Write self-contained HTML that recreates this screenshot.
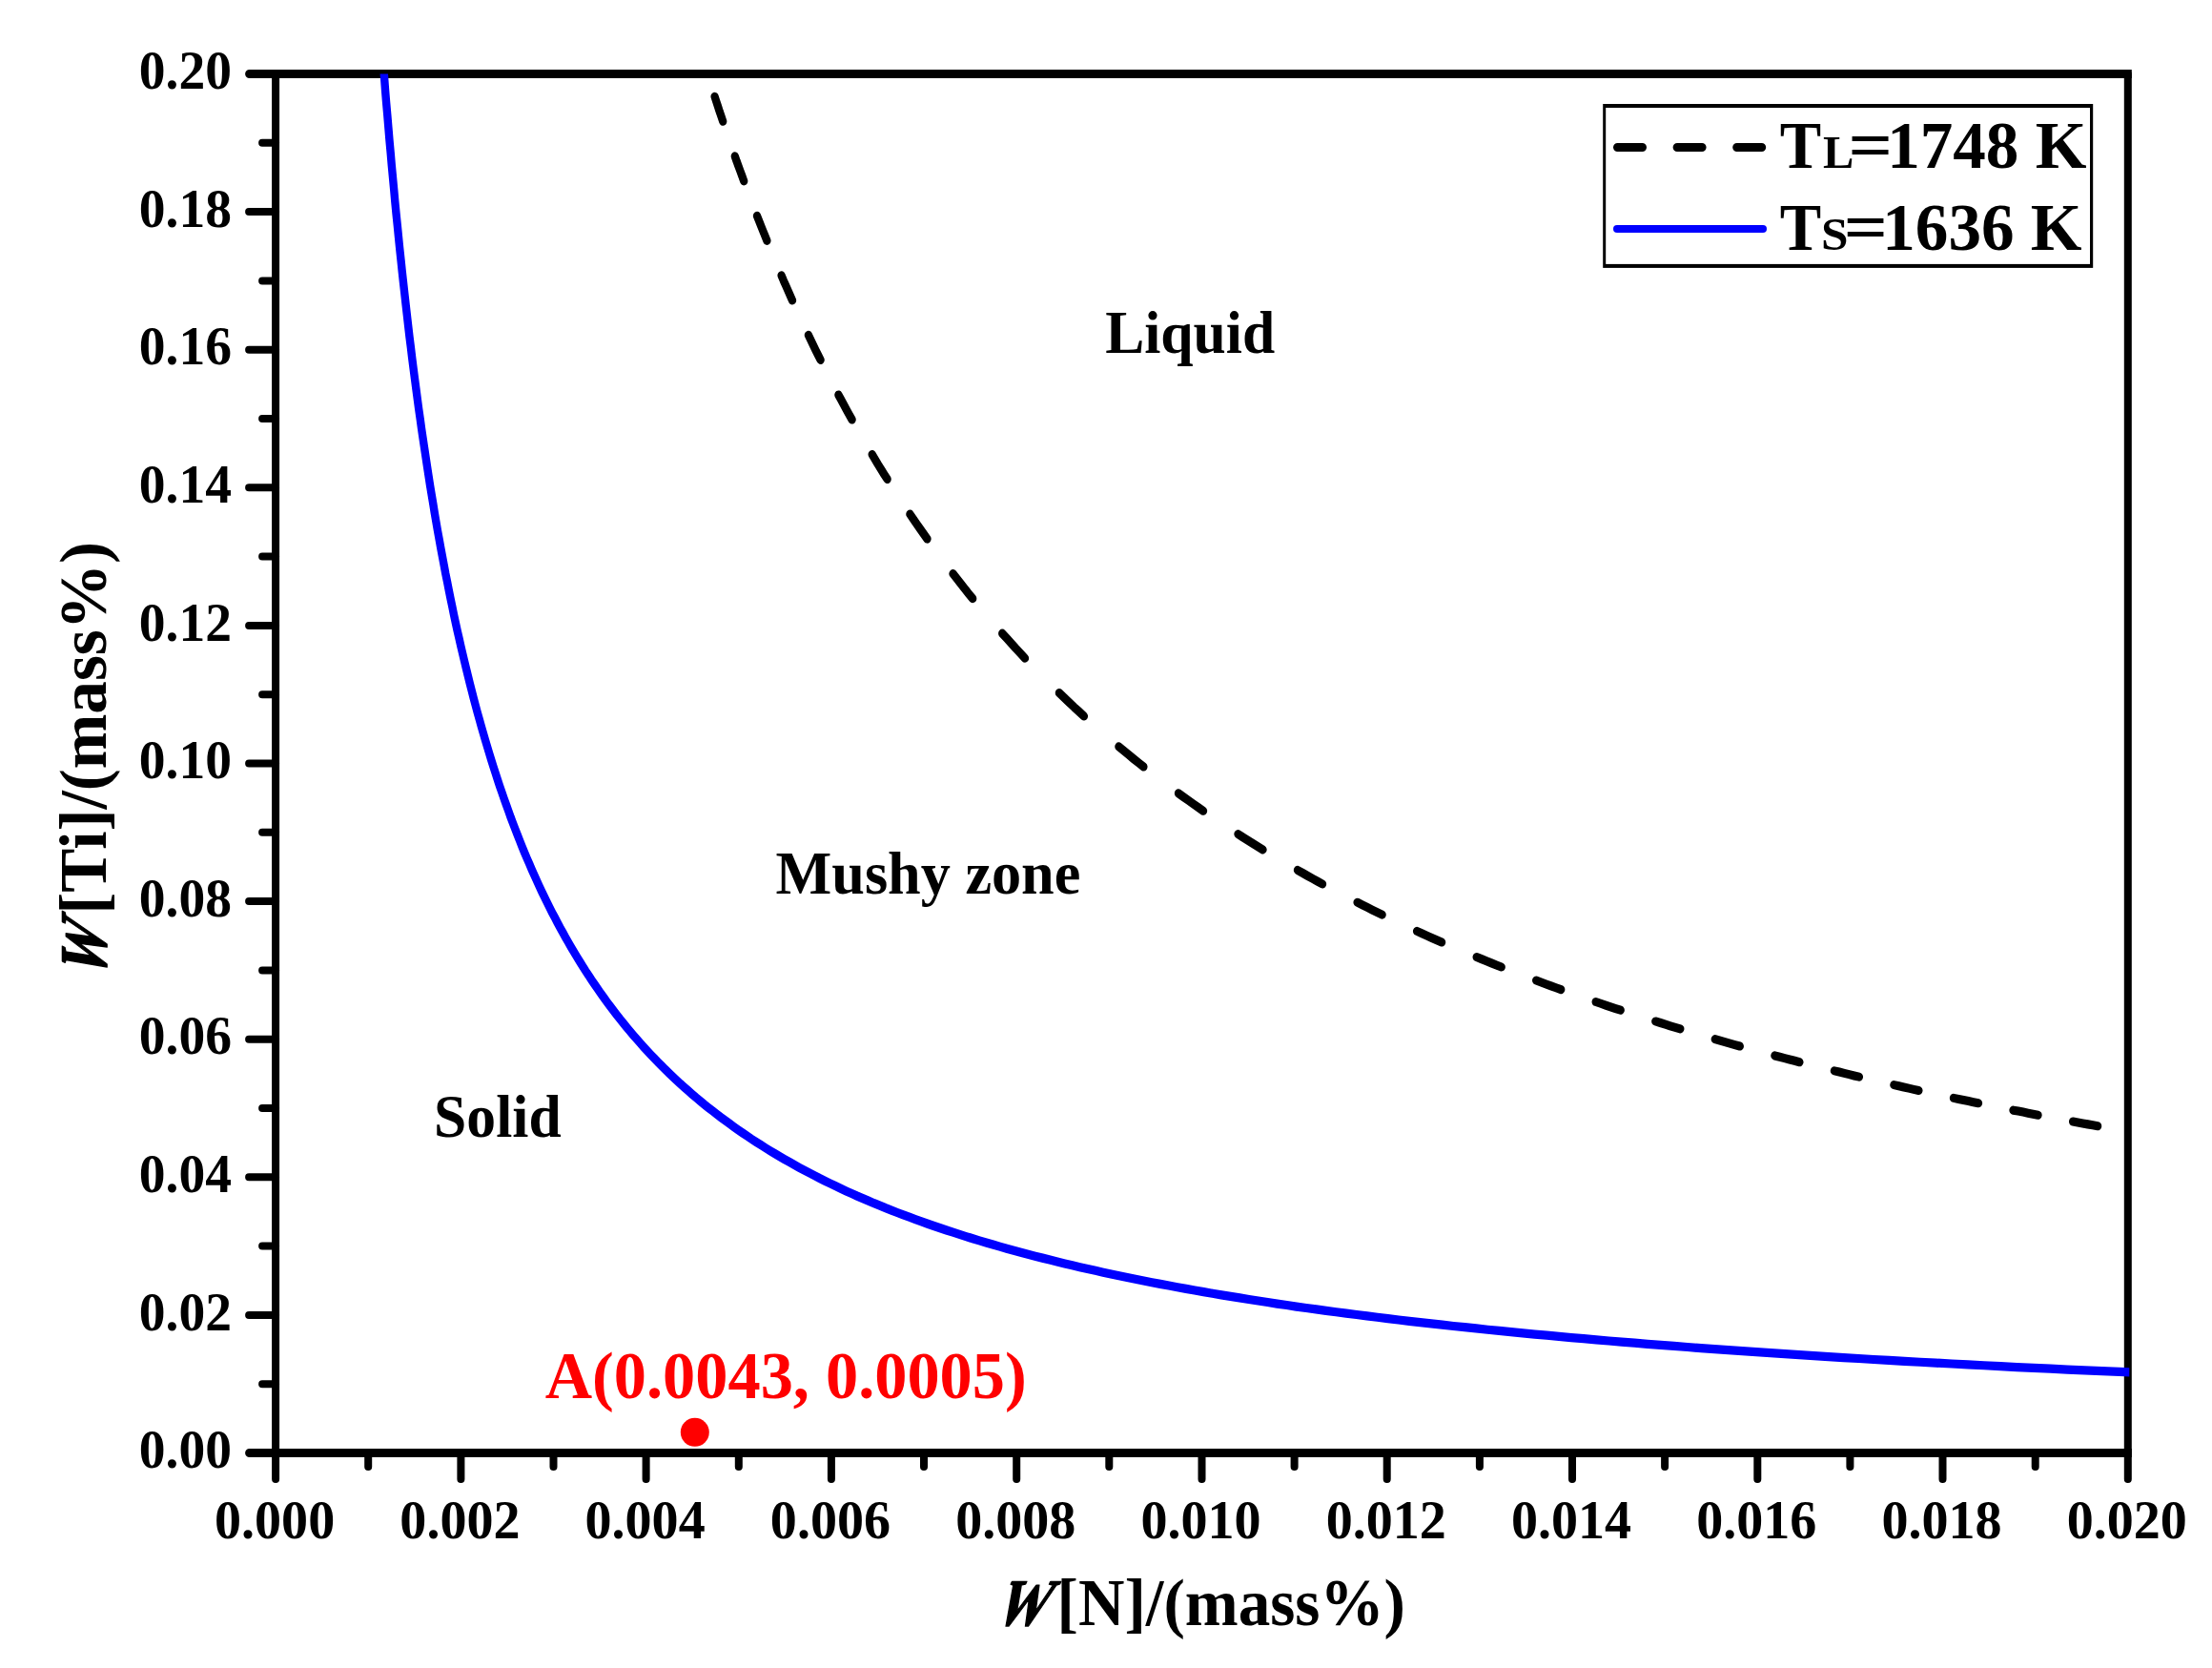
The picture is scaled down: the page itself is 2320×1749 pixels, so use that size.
<!DOCTYPE html>
<html><head><meta charset="utf-8"><title>Ti-N stability diagram</title>
<style>html,body{margin:0;padding:0;background:#fff}svg{display:block}text{font-family:"Liberation Serif","Times New Roman",serif;font-weight:bold}</style>
</head><body>
<svg width="2320" height="1749" viewBox="0 0 2320 1749">
<rect width="2320" height="1749" fill="#fff"/>
<defs><clipPath id="plot"><rect x="289.1" y="77.5" width="1944.2" height="1446.0"/></clipPath></defs>
<g stroke="#000" fill="none" stroke-linecap="round" stroke-linejoin="round">
<path stroke-width="9" stroke-linecap="butt" d="M289.1 77.5H2235.8M289.1 1523.5H2235.8"/>
<path stroke-width="9" d="M261.6 77.5H289.1M261.6 1523.5H289.1"/>
<path stroke-width="8" d="M289.1 77.5V1551.0M2231.8 77.5V1551.0"/>
<path stroke-width="8" d="M275.1 1451.2H289.1M261.1 1378.9H289.1M275.1 1306.6H289.1M261.1 1234.3H289.1M275.1 1162.0H289.1M261.1 1089.7H289.1M275.1 1017.4H289.1M261.1 945.1H289.1M275.1 872.8H289.1M261.1 800.5H289.1M275.1 728.2H289.1M261.1 655.9H289.1M275.1 583.6H289.1M261.1 511.3H289.1M275.1 439.0H289.1M261.1 366.7H289.1M275.1 294.4H289.1M261.1 222.1H289.1M275.1 149.8H289.1M386.2 1523.5V1538.0M483.4 1523.5V1551.0M580.5 1523.5V1538.0M677.6 1523.5V1551.0M774.8 1523.5V1538.0M871.9 1523.5V1551.0M969.0 1523.5V1538.0M1066.2 1523.5V1551.0M1163.3 1523.5V1538.0M1260.5 1523.5V1551.0M1357.6 1523.5V1538.0M1454.7 1523.5V1551.0M1551.9 1523.5V1538.0M1649.0 1523.5V1551.0M1746.1 1523.5V1538.0M1843.3 1523.5V1551.0M1940.4 1523.5V1538.0M2037.5 1523.5V1551.0M2134.7 1523.5V1538.0"/>
</g>
<g font-size="57.5" fill="#000">
<g text-anchor="end">
<text transform="translate(243.0 1539.1) scale(0.966 1)">0.00</text>
<text transform="translate(243.0 1394.5) scale(0.966 1)">0.02</text>
<text transform="translate(243.0 1249.9) scale(0.966 1)">0.04</text>
<text transform="translate(243.0 1105.3) scale(0.966 1)">0.06</text>
<text transform="translate(243.0 960.7) scale(0.966 1)">0.08</text>
<text transform="translate(243.0 816.1) scale(0.966 1)">0.10</text>
<text transform="translate(243.0 671.5) scale(0.966 1)">0.12</text>
<text transform="translate(243.0 526.9) scale(0.966 1)">0.14</text>
<text transform="translate(243.0 382.3) scale(0.966 1)">0.16</text>
<text transform="translate(243.0 237.7) scale(0.966 1)">0.18</text>
<text transform="translate(243.0 93.1) scale(0.966 1)">0.20</text>
</g><g text-anchor="middle">
<text transform="translate(288.1 1612.8) scale(0.975 1)">0.000</text>
<text transform="translate(482.4 1612.8) scale(0.975 1)">0.002</text>
<text transform="translate(676.6 1612.8) scale(0.975 1)">0.004</text>
<text transform="translate(870.9 1612.8) scale(0.975 1)">0.006</text>
<text transform="translate(1065.2 1612.8) scale(0.975 1)">0.008</text>
<text transform="translate(1259.5 1612.8) scale(0.975 1)">0.010</text>
<text transform="translate(1453.7 1612.8) scale(0.975 1)">0.012</text>
<text transform="translate(1648.0 1612.8) scale(0.975 1)">0.014</text>
<text transform="translate(1842.3 1612.8) scale(0.975 1)">0.016</text>
<text transform="translate(2036.5 1612.8) scale(0.975 1)">0.018</text>
<text transform="translate(2230.8 1612.8) scale(0.975 1)">0.020</text>
</g></g>
<g clip-path="url(#plot)" fill="none"><g transform="scale(1 1.1)">
<path stroke="#0000ff" stroke-width="8.4" d="M400.8 47.6 L401.9 60.3 L403.0 72.9 L404.0 85.3 L405.1 97.6 L406.3 109.9 L407.4 122.0 L408.5 134.0 L409.7 145.8 L410.8 157.6 L412.0 169.2 L413.2 180.8 L414.3 192.2 L415.5 203.5 L416.8 214.7 L418.0 225.9 L419.2 236.9 L420.5 247.8 L421.7 258.5 L423.0 269.2 L424.3 279.8 L425.6 290.3 L426.9 300.7 L428.2 311.0 L429.5 321.2 L430.9 331.3 L432.2 341.3 L433.6 351.2 L435.0 361.0 L436.4 370.7 L437.8 380.4 L439.2 389.9 L440.7 399.3 L442.1 408.7 L443.6 418.0 L445.1 427.1 L446.6 436.2 L448.1 445.2 L449.6 454.1 L451.1 463.0 L452.7 471.7 L454.3 480.4 L455.8 489.0 L457.4 497.5 L459.0 505.9 L460.7 514.3 L462.3 522.5 L464.0 530.7 L465.7 538.8 L467.3 546.8 L469.1 554.8 L470.8 562.7 L472.5 570.5 L474.3 578.2 L476.0 585.9 L477.8 593.5 L479.6 601.0 L481.5 608.4 L483.3 615.8 L485.2 623.1 L487.1 630.3 L489.0 637.5 L490.9 644.6 L492.8 651.6 L494.8 658.6 L496.7 665.5 L498.7 672.3 L500.7 679.1 L502.8 685.8 L504.8 692.4 L506.9 699.0 L509.0 705.5 L511.1 711.9 L513.2 718.3 L515.3 724.6 L517.5 730.9 L519.7 737.1 L521.9 743.3 L524.1 749.4 L526.4 755.4 L528.7 761.4 L531.0 767.3 L533.3 773.1 L535.6 779.0 L538.0 784.7 L540.4 790.4 L542.8 796.0 L545.2 801.6 L547.6 807.2 L550.1 812.7 L552.6 818.1 L555.2 823.5 L557.7 828.8 L560.3 834.1 L562.9 839.3 L565.5 844.5 L568.1 849.6 L570.8 854.7 L573.5 859.7 L576.2 864.7 L579.0 869.7 L581.8 874.5 L584.6 879.4 L587.4 884.2 L590.3 888.9 L593.2 893.7 L596.1 898.3 L599.0 902.9 L602.0 907.5 L605.0 912.0 L608.0 916.5 L611.1 921.0 L614.1 925.4 L617.3 929.7 L620.4 934.1 L623.6 938.3 L626.8 942.6 L630.0 946.8 L633.3 950.9 L636.6 955.1 L639.9 959.1 L643.3 963.2 L646.7 967.2 L650.1 971.2 L653.6 975.1 L657.0 979.0 L660.6 982.8 L664.1 986.6 L667.7 990.4 L671.4 994.2 L675.0 997.9 L678.7 1001.6 L682.4 1005.2 L686.2 1008.8 L690.0 1012.4 L693.9 1015.9 L697.7 1019.4 L701.7 1022.9 L705.6 1026.3 L709.6 1029.7 L713.6 1033.1 L717.7 1036.4 L721.8 1039.7 L725.9 1043.0 L730.1 1046.3 L734.4 1049.5 L738.6 1052.7 L742.9 1055.8 L747.3 1058.9 L751.7 1062.0 L756.1 1065.1 L760.6 1068.1 L765.1 1071.1 L769.7 1074.1 L774.3 1077.1 L778.9 1080.0 L783.6 1082.9 L788.3 1085.8 L793.1 1088.6 L798.0 1091.4 L802.8 1094.2 L807.8 1097.0 L812.7 1099.7 L817.7 1102.4 L822.8 1105.1 L827.9 1107.7 L833.1 1110.4 L838.3 1113.0 L843.6 1115.6 L848.9 1118.1 L854.2 1120.6 L859.7 1123.2 L865.1 1125.6 L870.6 1128.1 L876.2 1130.5 L881.8 1133.0 L887.5 1135.4 L893.3 1137.7 L899.0 1140.1 L904.9 1142.4 L910.8 1144.7 L916.7 1147.0 L922.8 1149.2 L928.8 1151.5 L935.0 1153.7 L941.1 1155.9 L947.4 1158.1 L953.7 1160.2 L960.1 1162.3 L966.5 1164.5 L973.0 1166.6 L979.5 1168.6 L986.2 1170.7 L992.8 1172.7 L999.6 1174.7 L1006.4 1176.7 L1013.3 1178.7 L1020.2 1180.7 L1027.2 1182.6 L1034.3 1184.5 L1041.4 1186.4 L1048.6 1188.3 L1055.9 1190.2 L1063.3 1192.0 L1070.7 1193.9 L1078.2 1195.7 L1085.7 1197.5 L1093.4 1199.2 L1101.1 1201.0 L1108.8 1202.8 L1116.7 1204.5 L1124.6 1206.2 L1132.6 1207.9 L1140.7 1209.6 L1148.9 1211.2 L1157.1 1212.9 L1165.4 1214.5 L1173.8 1216.1 L1182.3 1217.7 L1190.9 1219.3 L1199.5 1220.9 L1208.2 1222.5 L1217.0 1224.0 L1225.9 1225.5 L1234.9 1227.0 L1244.0 1228.5 L1253.1 1230.0 L1262.4 1231.5 L1271.7 1233.0 L1281.1 1234.4 L1290.6 1235.8 L1300.2 1237.2 L1309.9 1238.6 L1319.7 1240.0 L1329.6 1241.4 L1339.5 1242.8 L1349.6 1244.1 L1359.7 1245.5 L1370.0 1246.8 L1380.4 1248.1 L1390.8 1249.4 L1401.4 1250.7 L1412.0 1252.0 L1422.8 1253.2 L1433.7 1254.5 L1444.6 1255.7 L1455.7 1256.9 L1466.9 1258.2 L1478.2 1259.4 L1489.6 1260.6 L1501.1 1261.7 L1512.7 1262.9 L1524.4 1264.1 L1536.2 1265.2 L1548.2 1266.3 L1560.3 1267.5 L1572.4 1268.6 L1584.7 1269.7 L1597.1 1270.8 L1609.7 1271.9 L1622.3 1272.9 L1635.1 1274.0 L1648.0 1275.1 L1661.0 1276.1 L1674.2 1277.1 L1687.4 1278.2 L1700.8 1279.2 L1714.4 1280.2 L1728.0 1281.2 L1741.8 1282.2 L1755.7 1283.1 L1769.8 1284.1 L1784.0 1285.1 L1798.3 1286.0 L1812.8 1286.9 L1827.4 1287.9 L1842.1 1288.8 L1857.0 1289.7 L1872.0 1290.6 L1887.2 1291.5 L1902.5 1292.4 L1917.9 1293.3 L1933.6 1294.2 L1949.3 1295.0 L1965.2 1295.9 L1981.3 1296.7 L1997.5 1297.6 L2013.9 1298.4 L2030.4 1299.2 L2047.1 1300.0 L2063.9 1300.8 L2080.9 1301.6 L2098.1 1302.4 L2115.4 1303.2 L2132.9 1304.0 L2150.6 1304.7 L2168.4 1305.5 L2186.4 1306.3 L2204.6 1307.0 L2223.0 1307.7 L2241.5 1308.5"/>
</g></g>
<path transform="scale(1 1.1)" fill="none" stroke="#000" stroke-width="8.3" stroke-linecap="round" stroke-linejoin="round" d="M749.6 92.1L751.3 96.8L753.0 101.5L754.7 106.3L756.5 111.0L758.2 115.7M770.8 148.9L772.6 153.7L774.5 158.4L776.4 163.1L778.3 167.8L780.2 172.6M794.0 205.8L796.1 210.5L798.1 215.2L800.2 220.0L802.3 224.7L804.4 229.4M819.6 262.6L821.8 267.4L824.1 272.1L826.4 276.8L828.7 281.6L831.0 286.3M847.9 319.5L850.4 324.2L852.9 329.0L855.4 333.7L858.0 338.4L860.6 343.1M879.4 376.4L882.2 381.1L885.0 385.8L887.8 390.5L890.7 395.3L893.6 400.0M914.7 433.2L917.8 437.9L920.9 442.7L924.1 447.4L927.3 452.1L930.6 456.8M954.4 490.1L957.9 494.8L961.5 499.5L965.1 504.2L968.8 509.0L972.5 513.7M999.5 546.9L1003.6 551.6L1007.7 556.4L1011.8 561.1L1015.9 565.8L1020.2 570.6M1051.2 603.8L1055.9 608.5L1060.6 613.2L1065.3 618.0L1070.2 622.7L1075.0 627.4M1110.9 660.5L1116.1 665.0L1121.3 669.5L1126.5 674.0L1131.7 678.3L1136.9 682.7M1173.4 711.7L1178.6 715.6L1183.8 719.5L1189.0 723.4L1194.2 727.2L1199.4 730.9M1236.0 756.2L1241.2 759.6L1246.4 763.0L1251.6 766.4L1256.8 769.7L1262.0 773.0M1298.5 795.1L1303.7 798.2L1308.9 801.1L1314.1 804.1L1319.3 807.0L1324.5 809.9M1361.0 829.5L1366.2 832.2L1371.4 834.9L1376.6 837.5L1381.8 840.1L1387.0 842.7M1423.6 860.2L1428.8 862.6L1434.0 864.9L1439.2 867.3L1444.4 869.6L1449.6 871.9M1486.1 887.6L1491.3 889.7L1496.5 891.9L1501.7 894.0L1506.9 896.1L1512.1 898.2M1548.7 912.3L1553.9 914.2L1559.1 916.2L1564.3 918.1L1569.5 920.0L1574.7 921.8M1611.2 934.6L1616.4 936.4L1621.6 938.2L1626.8 939.9L1632.0 941.6L1637.2 943.3M1673.7 955.0L1678.9 956.6L1684.1 958.2L1689.3 959.8L1694.5 961.4L1699.7 962.9M1736.3 973.6L1741.5 975.0L1746.7 976.5L1751.9 978.0L1757.1 979.4L1762.3 980.8M1798.8 990.6L1804.0 992.0L1809.2 993.3L1814.4 994.6L1819.6 996.0L1824.8 997.3M1861.4 1006.3L1866.6 1007.5L1871.8 1008.8L1877.0 1010.0L1882.2 1011.2L1887.4 1012.5M1923.9 1020.8L1929.1 1021.9L1934.3 1023.1L1939.5 1024.2L1944.7 1025.4L1949.9 1026.5M1986.4 1034.2L1991.6 1035.3L1996.8 1036.3L2002.0 1037.4L2007.2 1038.5L2012.4 1039.5M2049.0 1046.7L2054.2 1047.7L2059.4 1048.7L2064.6 1049.6L2069.8 1050.6L2075.0 1051.6M2111.5 1058.3L2116.7 1059.2L2121.9 1060.1L2127.1 1061.1L2132.3 1062.0L2137.5 1062.9M2174.1 1069.1L2179.3 1070.0L2184.5 1070.9L2189.7 1071.7L2194.9 1072.6L2200.1 1073.4"/>
<circle cx="728.8" cy="1501.8" r="15" fill="#ff0000"/>
<rect x="1681.2" y="109" width="514" height="171.9" fill="#000"/><rect x="1684.2" y="113" width="507.8" height="163.9" fill="#fff"/>
<path d="M1696.5 154.5H1850" fill="none" stroke="#000" stroke-width="9" stroke-linecap="round" stroke-dasharray="26 36.6"/>
<path d="M1696 240H1849" fill="none" stroke="#0000ff" stroke-width="8" stroke-linecap="round"/>
<g><text transform="translate(1159.23 369.7) scale(0.9768 1)" font-size="63" fill="#000">Liquid</text></g>
<g><text transform="translate(813.57 936.8) scale(0.9878 1)" font-size="63" fill="#000">Mushy zone</text></g>
<g><text transform="translate(455.11 1192.3) scale(0.9777 1)" font-size="63" fill="#000">Solid</text></g>
<g><text transform="translate(571.71 1466) scale(0.9838 1)" font-size="69.5" fill="#ff0000">A(0.0043, 0.0005)</text></g>
<g><text transform="translate(1040.35 1704) skewX(-24) scale(0.7649 1)" font-size="69.5" fill="#000" stroke="#000" stroke-width="1.6" stroke-linejoin="round">W</text><text transform="translate(1108.57 1704) scale(0.9659 1)" font-size="69.5" fill="#000">[N]/(mass%)</text></g>
<g><text transform="translate(111.4 1100) rotate(-90) translate(70.74 0) skewX(-24) scale(0.7848 1)" font-size="69.5" fill="#000" stroke="#000" stroke-width="1.6" stroke-linejoin="round">W</text><text transform="translate(111.4 1100) rotate(-90) translate(141.24 0) scale(0.9956 1)" font-size="69.5" fill="#000">[Ti]/(mass%)</text></g>
<g><text transform="translate(1866.74 176) scale(0.9369 1)" font-size="69.5" fill="#000">T</text><text transform="translate(1912 176) scale(1.0000 1)" font-size="48.5" fill="#000">L</text><text transform="translate(1938.51 176) scale(1.1753 1)" font-size="69.5" fill="#000">=</text><text transform="translate(1979.15 176) scale(0.9944 1)" font-size="69.5" fill="#000">1748 K</text></g>
<g><text transform="translate(1866.74 261.7) scale(0.9369 1)" font-size="69.5" fill="#000">T</text><text transform="translate(1910.06 261.7) scale(1.0560 1)" font-size="48.5" fill="#000">S</text><text transform="translate(1933.64 261.7) scale(1.1654 1)" font-size="69.5" fill="#000">=</text><text transform="translate(1974.35 261.7) scale(0.9934 1)" font-size="69.5" fill="#000">1636 K</text></g>
</svg></body></html>
